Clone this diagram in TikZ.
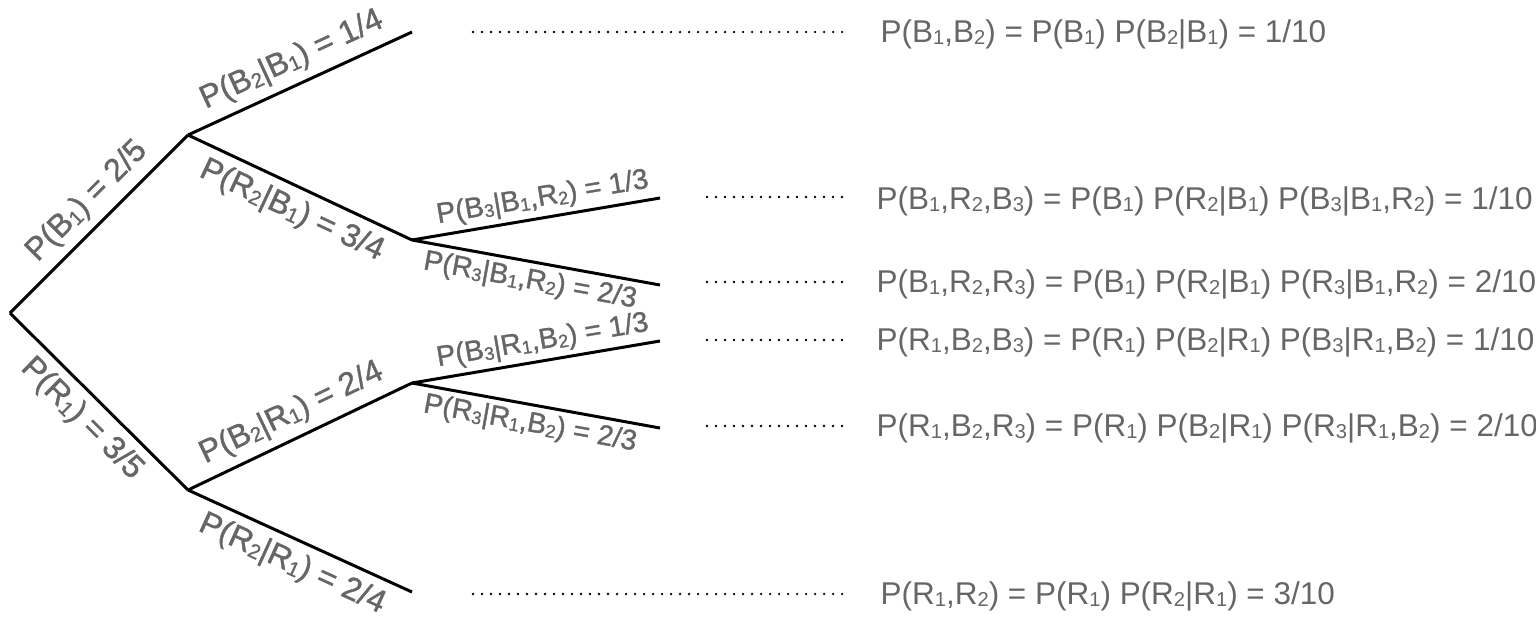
\documentclass[tikz,border=0pt]{standalone}
\usepackage{graphicx}
\usepackage{fontspec}
\setmainfont{Liberation Sans}
\newfontfamily\branchfont[FakeBold=1.2]{Liberation Sans}
\usetikzlibrary{calc}
\definecolor{txtgray}{RGB}{102,102,102}
\newcommand{\ix}[1]{\raisebox{-0.15ex}{\scalebox{0.64}{#1}}}

\tikzset{
	branch/.style={line width=0.85pt, line join=round},
	prob/.style={sloped, text=txtgray, inner sep=2.3pt, font=\branchfont\fontsize{9.1}{11}\selectfont},
	probsmall/.style={prob, inner sep=1.3pt, font=\branchfont\fontsize{8.1}{10}\selectfont},
	joint/.style={anchor=west, inner sep=0pt, text=txtgray, font=\fontsize{8.95}{11}\selectfont},
	leader/.style={line width=0.75pt, line cap=round, dash pattern=on 0pt off 2.56pt, shorten >=0.3cm}
}

\begin{document}
\begin{tikzpicture}[x=0.01cm, y=-0.01cm]
		%%%%% START %%%%%
		\useasboundingbox (0, 0) rectangle (1536, 626);
		
		% points of the tree
		\coordinate (root) at (10, 313);
		\coordinate (b1) at (188, 135);
		\coordinate (r1) at (188, 490);
		\coordinate (b1b2) at (412, 32);
		\coordinate (b1r2) at (412, 240);
		\coordinate (b1r2b3) at (660, 198);
		\coordinate (b1r2r3) at (660, 285);
		\coordinate (r1b2) at (412, 383);
		\coordinate (r1b2b3) at (660, 341);
		\coordinate (r1b2r3) at (660, 428);
		\coordinate (r1r2) at (412, 592);
		
		% first draw
		\draw[branch] (root) -- node[prob, above, pos=0.53] (pb1) {P(B\ix{1}) = 2/5} (b1);
		\draw[branch] (root) -- node[prob, below, pos=0.5] (pr1) {P(R\ix{1}) = 3/5} (r1);
		
		% second draw
		\draw[branch] (b1) -- node[prob, above, pos=0.51] (pb2b1) {P(B\ix{2}|B\ix{1}) = 1/4} (b1b2);
		\draw[branch] (b1) -- node[prob, below, pos=0.51] (pr2b1) {P(R\ix{2}|B\ix{1}) = 3/4} (b1r2);
		\draw[branch] (r1) -- node[prob, above, pos=0.51] (pb2r1) {P(B\ix{2}|R\ix{1}) = 2/4} (r1b2);
		\draw[branch] (r1) -- node[prob, below, pos=0.51] (pr2r1) {P(R\ix{2}|R\ix{1}) = 2/4} (r1r2);
		
		% third draw
		\draw[branch] (b1r2) -- node[probsmall, above, pos=0.54] (pb3b1r2) {P(B\ix{3}|B\ix{1},R\ix{2}) = 1/3} (b1r2b3);
		\draw[branch] (b1r2) -- node[probsmall, below, pos=0.49] (pr3b1r2) {P(R\ix{3}|B\ix{1},R\ix{2}) = 2/3} (b1r2r3);
		\draw[branch] (r1b2) -- node[probsmall, above, pos=0.54] (pb3r1b2) {P(B\ix{3}|R\ix{1},B\ix{2}) = 1/3} (r1b2b3);
		\draw[branch] (r1b2) -- node[probsmall, below, pos=0.49] (pr3r1b2) {P(R\ix{3}|R\ix{1},B\ix{2}) = 2/3} (r1b2r3);
		
		% joint probabilities
		\node[joint] (j1) at (880, 34) {P(B\ix{1},B\ix{2}) = P(B\ix{1}) P(B\ix{2}|B\ix{1}) = 1/10};
		\node[joint] (j2) at (876, 201) {P(B\ix{1},R\ix{2},B\ix{3}) = P(B\ix{1}) P(R\ix{2}|B\ix{1}) P(B\ix{3}|B\ix{1},R\ix{2}) = 1/10};
		\node[joint] (j3) at (876, 284) {P(B\ix{1},R\ix{2},R\ix{3}) = P(B\ix{1}) P(R\ix{2}|B\ix{1}) P(R\ix{3}|B\ix{1},R\ix{2}) = 2/10};
		\node[joint] (j4) at (876, 342) {P(R\ix{1},B\ix{2},B\ix{3}) = P(R\ix{1}) P(B\ix{2}|R\ix{1}) P(B\ix{3}|R\ix{1},B\ix{2}) = 1/10};
		\node[joint] (j5) at (876, 428) {P(R\ix{1},B\ix{2},R\ix{3}) = P(R\ix{1}) P(B\ix{2}|R\ix{1}) P(R\ix{3}|R\ix{1},B\ix{2}) = 2/10};
		\node[joint] (j6) at (880, 596) {P(R\ix{1},R\ix{2}) = P(R\ix{1}) P(R\ix{2}|R\ix{1}) = 3/10};
		
		% dotted leaders
		\coordinate (d1) at (473, 32);
		\coordinate (d2) at (707, 197);
		\coordinate (d3) at (707, 282);
		\coordinate (d4) at (707, 340);
		\coordinate (d5) at (707, 426);
		\coordinate (d6) at (473, 594);
		\foreach \i in {1,...,6}
			\draw[leader] (d\i) -- (d\i -| j\i.west);
		
		%%%%% END %%%%%
\end{tikzpicture}
\end{document}
